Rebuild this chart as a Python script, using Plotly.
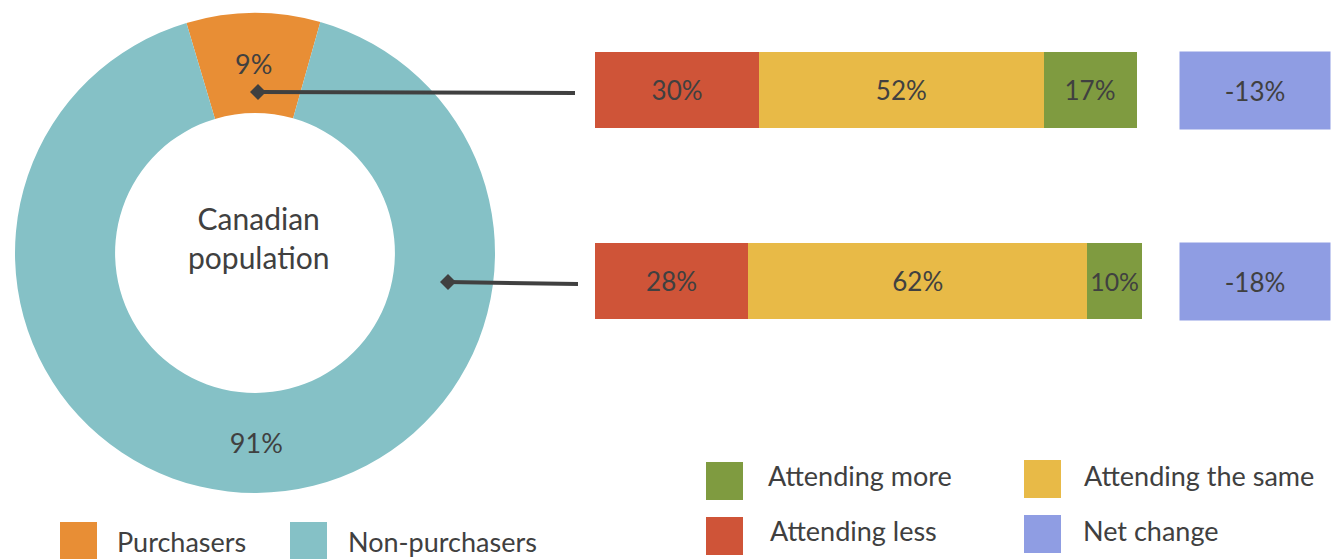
import plotly.graph_objects as go

# Canadian population split
pie_labels = ["Purchasers", "Non-purchasers"]
pie_values = [9, 91]
pie_colors = ["#E88E35", "#85C1C6"]

# Attendance change by group
groups = ["Purchasers", "Non-purchasers"]
attending_less = [30, 28]
attending_same = [52, 62]
attending_more = [17, 10]
net_change = [-13, -18]

W, H = 1338, 559
TXT = "#404040"
FONT = "Lato"

def px(x):
    return x / W

def py(y):
    return 1 - y / H

fig = go.Figure()

fig.add_trace(go.Pie(
    labels=pie_labels, values=pie_values, hole=0.583,
    marker=dict(colors=pie_colors, line=dict(width=0)),
    sort=False, direction="clockwise", rotation=-16.6,
    texttemplate="%{value}%", textposition="inside",
    insidetextorientation="horizontal",
    textfont=dict(family=FONT, size=27, color=TXT),
    domain=dict(x=[px(15), px(495)], y=[py(493), py(13)]),
    showlegend=False, hoverinfo="label+value",
))

bar_series = [
    ("Attending less", attending_less, "#CF5438"),
    ("Attending the same", attending_same, "#E8BA47"),
    ("Attending more", attending_more, "#7F9B40"),
]
for name, vals, col in bar_series:
    fig.add_trace(go.Bar(
        name=name, y=groups, x=vals, orientation="h",
        marker=dict(color=col, line=dict(width=0)),
        text=[f"{v}%" for v in vals], textposition="inside",
        insidetextanchor="middle", textangle=0,
        textfont=dict(family=FONT, size=26, color=TXT),
        width=0.403, showlegend=False,
    ))

fig.update_layout(
    width=W, height=H, margin=dict(l=0, r=0, t=0, b=0),
    paper_bgcolor="white", plot_bgcolor="white",
    barmode="stack",
    xaxis=dict(domain=[px(595), px(1142)], range=[0, 100], visible=False, fixedrange=True),
    yaxis=dict(domain=[py(319.2), py(51.8)], type="category", categoryarray=groups,
               range=[1.2, -0.2], visible=False, fixedrange=True),
    font=dict(family=FONT, color=TXT),
)

annotations = []
shapes = []

# Net change boxes
for g, v in zip(groups, net_change):
    annotations.append(dict(
        xref="paper", yref="y", x=px(1255), y=g, text=f"{v}%",
        showarrow=False, bgcolor="#8F9DE3", width=150, height=77, borderpad=0,
        font=dict(family=FONT, size=26, color=TXT), xanchor="center", yanchor="middle",
    ))

# Donut centre label
annotations.append(dict(
    xref="paper", yref="paper", x=px(258), y=py(237), text="Canadian<br>population",
    showarrow=False, font=dict(family=FONT, size=30, color=TXT), align="center",
    xanchor="center", yanchor="middle",
))

# Connectors from donut slices to their bars
for (x0, y0, x1, y1) in [(258, 92, 575, 93), (448, 282, 578, 284)]:
    shapes.append(dict(type="line", xref="paper", yref="paper",
                       x0=px(x0), y0=py(y0), x1=px(x1), y1=py(y1),
                       line=dict(color="#404040", width=4), layer="above"))
    d = 8
    shapes.append(dict(type="path", xref="paper", yref="paper", layer="above",
                       path=f"M {px(x0-d)},{py(y0)} L {px(x0)},{py(y0-d)} L {px(x0+d)},{py(y0)} L {px(x0)},{py(y0+d)} Z",
                       fillcolor="#404040", line=dict(width=0)))

# Legends
legend_items = [
    ("Purchasers", "#E88E35", 60, 522, 115, 541),
    ("Non-purchasers", "#85C1C6", 290, 522, 346, 541),
    ("Attending more", "#7F9B40", 706, 462, 766, 475),
    ("Attending the same", "#E8BA47", 1024, 460, 1082, 475),
    ("Attending less", "#CF5438", 706, 517, 768, 530),
    ("Net change", "#8F9DE3", 1024, 515, 1081, 530),
]
for name, col, sx, sy, tx, ty in legend_items:
    shapes.append(dict(type="rect", xref="paper", yref="paper",
                       x0=px(sx), x1=px(sx + 37), y0=py(sy), y1=py(sy + 38),
                       fillcolor=col, line=dict(width=0), layer="above"))
    annotations.append(dict(xref="paper", yref="paper", x=px(tx), y=py(ty), text=name,
                            showarrow=False, xanchor="left", yanchor="middle",
                            font=dict(family=FONT, size=27, color=TXT)))

fig.update_layout(annotations=annotations, shapes=shapes)
fig.write_html("out.html")
